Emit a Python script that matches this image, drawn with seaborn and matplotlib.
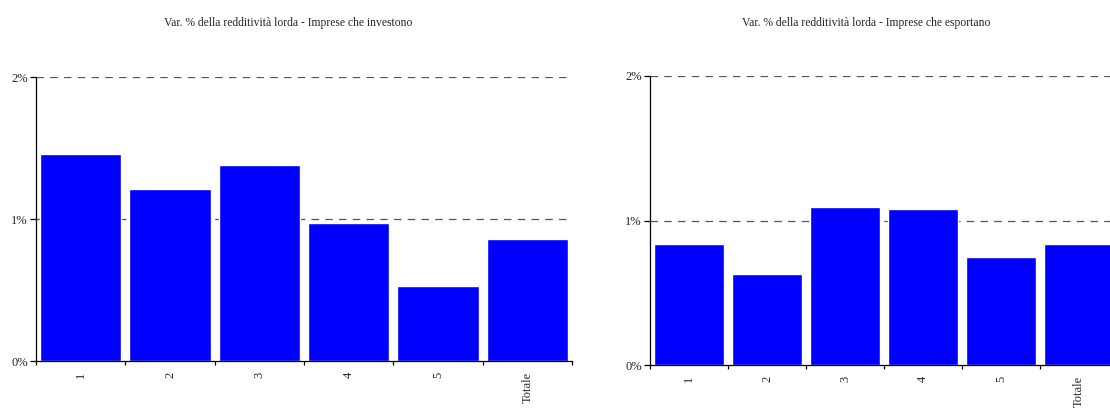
import matplotlib
matplotlib.use("Agg")
import matplotlib.pyplot as plt
import seaborn as sns
import pandas as pd
from matplotlib.ticker import FixedLocator

categories = ["1", "2", "3", "4", "5", "Totale"]
investono = [1.46, 1.21, 1.38, 0.97, 0.53, 0.86]
esportano = [0.84, 0.63, 1.09, 1.08, 0.75, 0.84]
ytick_vals = [0, 1, 2]
ytick_labels = ["0%", "1%", "2%"]
title_inv = "Var. % della redditività lorda - Imprese che investono"
title_esp = "Var. % della redditività lorda - Imprese che esportano"

sns.set_style("white")
plt.rcParams["font.family"] = ["Liberation Serif", "DejaVu Serif"]

fig = plt.figure(figsize=(11.10, 4.09), dpi=100)
ax1 = fig.add_axes([36/1110, 1-361/409, (572-36)/1110, (361-77)/409])
ax2 = fig.add_axes([650/1110, 1-365/409, (1118-650)/1110, (365-76)/409])

def draw(ax, values):
    df = pd.DataFrame({"cat": categories, "val": values})
    ax.set_axisbelow(True)
    for y in ytick_vals[1:]:
        ax.axhline(y, color="#555555", lw=0.9, ls=(0, (6, 5)), zorder=0)
    sns.barplot(data=df, x="cat", y="val", ax=ax, color="#0000FF",
                saturation=1, width=0.91, order=categories, zorder=2)
    ax.set_xlim(-0.5, len(categories) - 0.5)
    ax.set_ylim(0, 2)
    ax.set_xlabel("")
    ax.set_ylabel("")
    ax.set_yticks(ytick_vals)
    ax.set_yticklabels(ytick_labels, fontsize=9)
    ax.set_xticks(range(len(categories)))
    ax.set_xticklabels(categories, rotation=90, fontsize=9)
    ax.tick_params(axis="x", which="major", length=0, pad=8)
    ax.xaxis.set_minor_locator(FixedLocator([i - 0.5 for i in range(len(categories) + 1)]))
    ax.tick_params(axis="x", which="minor", length=3, width=0.9, direction="out", color="black", bottom=True)
    ax.tick_params(axis="y", length=4, width=0.9, direction="out", color="black", left=True, pad=2)
    for s in ["top", "right"]:
        ax.spines[s].set_visible(False)
    for s in ["left", "bottom"]:
        ax.spines[s].set_color("black")
        ax.spines[s].set_linewidth(0.9)
        ax.spines[s].set_zorder(3)

draw(ax1, investono)
draw(ax2, esportano)

fig.text(288/1110, 1-23/409, title_inv, ha="center", va="center", fontsize=8.4)
fig.text(866/1110, 1-23/409, title_esp, ha="center", va="center", fontsize=8.4)

fig.savefig("out.png", dpi=100)
